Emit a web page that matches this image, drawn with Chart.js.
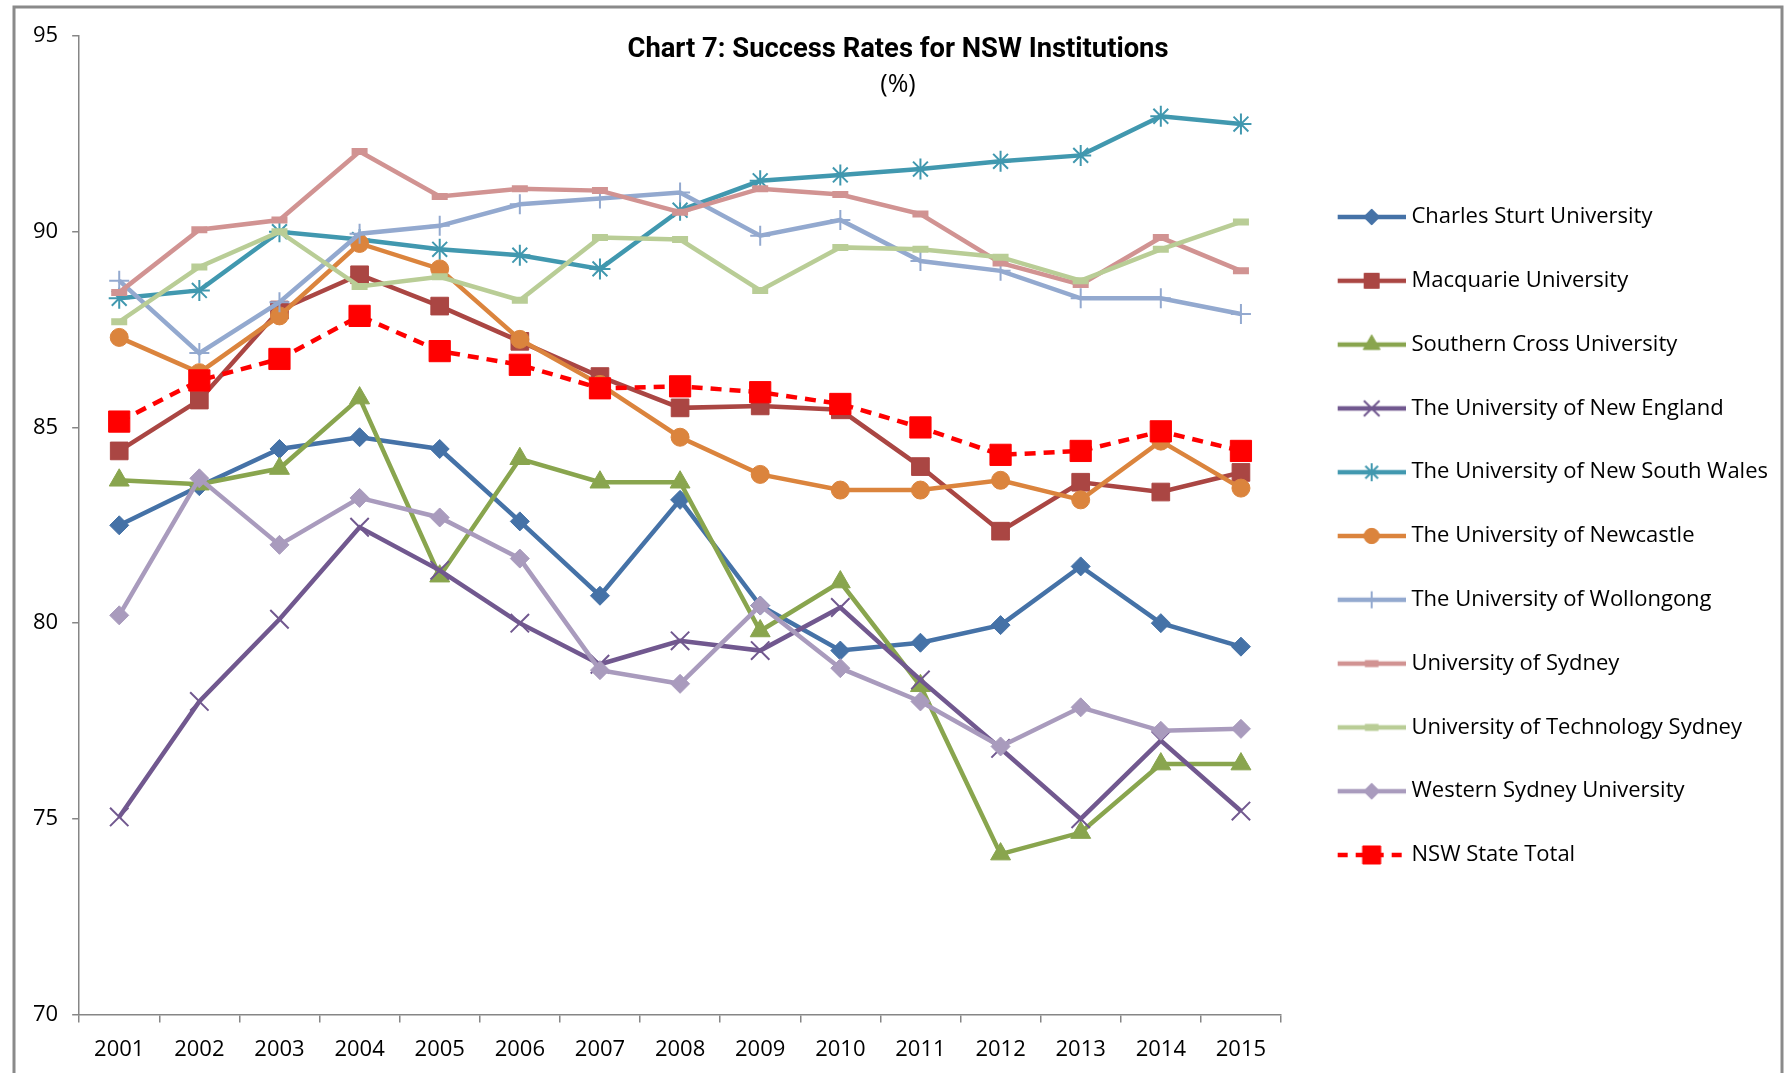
<!DOCTYPE html>
<html>
<head>
<meta charset="utf-8">
<title>Chart 7: Success Rates for NSW Institutions</title>
<script src="https://cdn.jsdelivr.net/npm/chart.js@4.4.1/dist/chart.umd.min.js"></script>
<style>
  html, body { margin: 0; padding: 0; background: #fff; }
  #wrap { width: 1787px; height: 1073px; position: relative; overflow: hidden; }
</style>
</head>
<body>
<div id="wrap"><canvas id="successChart" width="1787" height="1073"></canvas></div>
<script>
// categories
const years = ['2001', '2002', '2003', '2004', '2005', '2006', '2007', '2008',
               '2009', '2010', '2011', '2012', '2013', '2014', '2015'];

// success rates (%)
const charlesSturt  = [82.5, 83.5, 84.45, 84.75, 84.45, 82.6, 80.7, 83.15, 80.45, 79.3, 79.5, 79.95, 81.45, 80.0, 79.4];
const macquarie     = [84.4, 85.7, 88.0, 88.9, 88.1, 87.2, 86.3, 85.5, 85.55, 85.45, 84.0, 82.35, 83.6, 83.35, 83.85];
const southernCross = [83.65, 83.55, 83.95, 85.75, 81.2, 84.2, 83.6, 83.6, 79.8, 81.05, 78.4, 74.1, 74.65, 76.4, 76.4];
const newEngland    = [75.05, 78.0, 80.1, 82.45, 81.35, 80.0, 78.95, 79.55, 79.3, 80.4, 78.55, 76.8, 75.0, 77.0, 75.2];
const unsw          = [88.3, 88.5, 90.0, 89.8, 89.55, 89.4, 89.05, 90.55, 91.3, 91.45, 91.6, 91.8, 91.95, 92.95, 92.75];
const newcastle     = [87.3, 86.4, 87.85, 89.7, 89.05, 87.25, 86.1, 84.75, 83.8, 83.4, 83.4, 83.65, 83.15, 84.65, 83.45];
const wollongong    = [88.75, 86.9, 88.2, 89.95, 90.15, 90.7, 90.85, 91.0, 89.9, 90.3, 89.25, 89.0, 88.3, 88.3, 87.9];
const sydney        = [88.45, 90.05, 90.3, 92.05, 90.9, 91.1, 91.05, 90.5, 91.1, 90.95, 90.45, 89.2, 88.65, 89.85, 89.0];
const uts           = [87.7, 89.1, 90.0, 88.6, 88.85, 88.25, 89.85, 89.8, 88.5, 89.6, 89.55, 89.35, 88.75, 89.55, 90.25];
const westernSydney = [80.2, 83.7, 82.0, 83.2, 82.7, 81.65, 78.8, 78.45, 80.45, 78.85, 78.0, 76.85, 77.85, 77.25, 77.3];
const nswTotal      = [85.15, 86.2, 86.75, 87.85, 86.95, 86.6, 86.0, 86.05, 85.9, 85.6, 85.0, 84.3, 84.4, 84.9, 84.4];

// y axis ticks
const yMin = 70, yMax = 95, yStep = 5;

const titleText = 'Chart 7: Success Rates for NSW Institutions';
const subtitleText = '(%)';
const baseFont = '"Open Sans", "Liberation Sans", sans-serif';

// series look: name, data, colour, marker, radius, marker border width, dashed
const seriesDefs = [
    ['Charles Sturt University', charlesSturt, '#4572A7', 'rectRot', 9.5, 1, false],
    ['Macquarie University', macquarie, '#AA4643', 'rect', 12.5, 1, false],
    ['Southern Cross University', southernCross, '#89A54E', 'triangle', 11.5, 1, false],
    ['The University of New England', newEngland, '#71588F', 'crossRot', 13, 2, false],
    ['The University of New South Wales', unsw, '#4198AF', 'star', 10.5, 2, false],
    ['The University of Newcastle', newcastle, '#DB843D', 'circle', 9, 1, false],
    ['The University of Wollongong', wollongong, '#93A9CF', 'cross', 10, 2, false],
    ['University of Sydney', sydney, '#D19392', 'line', 8, 7, false],
    ['University of Technology Sydney', uts, '#B9CD96', 'line', 8, 7, false],
    ['Western Sydney University', westernSydney, '#A99BBD', 'rectRot', 9.5, 1, false],
    ['NSW State Total', nswTotal, '#FF0000', 'rect', 15, 1, true]
];

// small line + marker picture used in the legend, like the Excel legend keys
function makeLegendIcon(color, style, radius, markerBorder, dashed) {
    const c = document.createElement('canvas');
    c.width = 88;
    c.height = 28;
    const ctx = c.getContext('2d');
    ctx.strokeStyle = color;
    ctx.fillStyle = color;
    ctx.lineWidth = 4.5;
    if (dashed) ctx.setLineDash([10, 8]);
    ctx.beginPath();
    ctx.moveTo(20, 14);
    ctx.lineTo(88, 14);
    ctx.stroke();
    ctx.setLineDash([]);
    if (Chart.helpers && Chart.helpers.drawPoint) {
        ctx.lineWidth = markerBorder;
        Chart.helpers.drawPoint(ctx, {
            pointStyle: style,
            radius: radius * 0.85,
            rotation: 0,
            borderWidth: markerBorder
        }, 54, 14);
    }
    return c;
}

const legendIcons = seriesDefs.map(d => makeLegendIcon(d[2], d[3], d[4], d[5], d[6]));

const datasets = seriesDefs.map((d, i) => ({
    label: d[0],
    data: d[1],
    borderColor: d[2],
    backgroundColor: d[2],
    borderWidth: 4.5,
    borderDash: d[6] ? [11, 8] : [],
    pointStyle: d[3],
    pointRadius: d[4],
    pointBorderWidth: d[5],
    pointBackgroundColor: d[2],
    pointBorderColor: d[2],
    tension: 0,
    fill: false,
    order: seriesDefs.length - i
}));

// white background, chart frame and the title drawn over the plot area
const chartDecor = {
    id: 'chartDecor',
    beforeDraw(chart) {
        const ctx = chart.ctx;
        ctx.save();
        ctx.fillStyle = '#ffffff';
        ctx.fillRect(0, 0, chart.width, chart.height);
        ctx.strokeStyle = '#8a8a8a';
        ctx.lineWidth = 3;
        ctx.strokeRect(14, 7, 1768, 1090);
        ctx.restore();
    },
    afterDraw(chart) {
        const ctx = chart.ctx;
        ctx.save();
        ctx.fillStyle = '#000000';
        ctx.textAlign = 'center';
        ctx.textBaseline = 'alphabetic';
        ctx.font = 'bold 28px "Liberation Sans Narrow", Roboto, ' + baseFont;
        const w = ctx.measureText(titleText).width;
        const sx = Math.min(1.1, 541 / w);
        ctx.translate(898, 57);
        ctx.scale(sx, 1);
        ctx.fillText(titleText, 0, 0);
        ctx.restore();

        ctx.save();
        ctx.fillStyle = '#000000';
        ctx.textAlign = 'center';
        ctx.textBaseline = 'alphabetic';
        ctx.font = '25px ' + baseFont;
        ctx.fillText(subtitleText, 898, 92);
        ctx.restore();
    }
};

new Chart(document.getElementById('successChart').getContext('2d'), {
    type: 'line',
    data: {
        labels: years,
        datasets: datasets
    },
    options: {
        responsive: false,
        animation: false,
        devicePixelRatio: 1,
        events: [],
        layout: {
            padding: { left: 19, top: 36, right: 10, bottom: -4 }
        },
        scales: {
            x: {
                type: 'category',
                offset: true,
                grid: {
                    offset: true,
                    drawOnChartArea: false,
                    drawTicks: true,
                    tickLength: 8,
                    color: '#868686',
                    lineWidth: 1.5
                },
                border: { color: '#868686', width: 1.5 },
                ticks: {
                    color: '#000000',
                    font: { family: baseFont, size: 22 },
                    padding: 14,
                    maxRotation: 0,
                    autoSkip: false
                }
            },
            y: {
                min: yMin,
                max: yMax,
                grid: {
                    drawOnChartArea: false,
                    drawTicks: true,
                    tickLength: 7,
                    color: '#868686',
                    lineWidth: 1.5
                },
                border: { color: '#868686', width: 1.5 },
                ticks: {
                    stepSize: yStep,
                    color: '#000000',
                    font: { family: baseFont, size: 22 },
                    padding: 14
                }
            }
        },
        plugins: {
            title: { display: false },
            tooltip: { enabled: false },
            legend: {
                position: 'right',
                align: 'start',
                maxWidth: 496,
                title: {
                    display: true,
                    text: '',
                    padding: { top: 113.8, bottom: 0 }
                },
                labels: {
                    usePointStyle: true,
                    pointStyleWidth: 77.7,
                    padding: 41.8,
                    color: '#000000',
                    font: { family: baseFont, size: 22 },
                    generateLabels(chart) {
                        return chart.data.datasets.map((ds, i) => ({
                            text: ds.label,
                            pointStyle: legendIcons[i],
                            fillStyle: 'rgba(0,0,0,0)',
                            strokeStyle: 'rgba(0,0,0,0)',
                            lineWidth: 0,
                            hidden: false,
                            datasetIndex: i,
                            fontColor: '#000000'
                        }));
                    }
                }
            }
        }
    },
    plugins: [chartDecor]
});
</script>
</body>
</html>
